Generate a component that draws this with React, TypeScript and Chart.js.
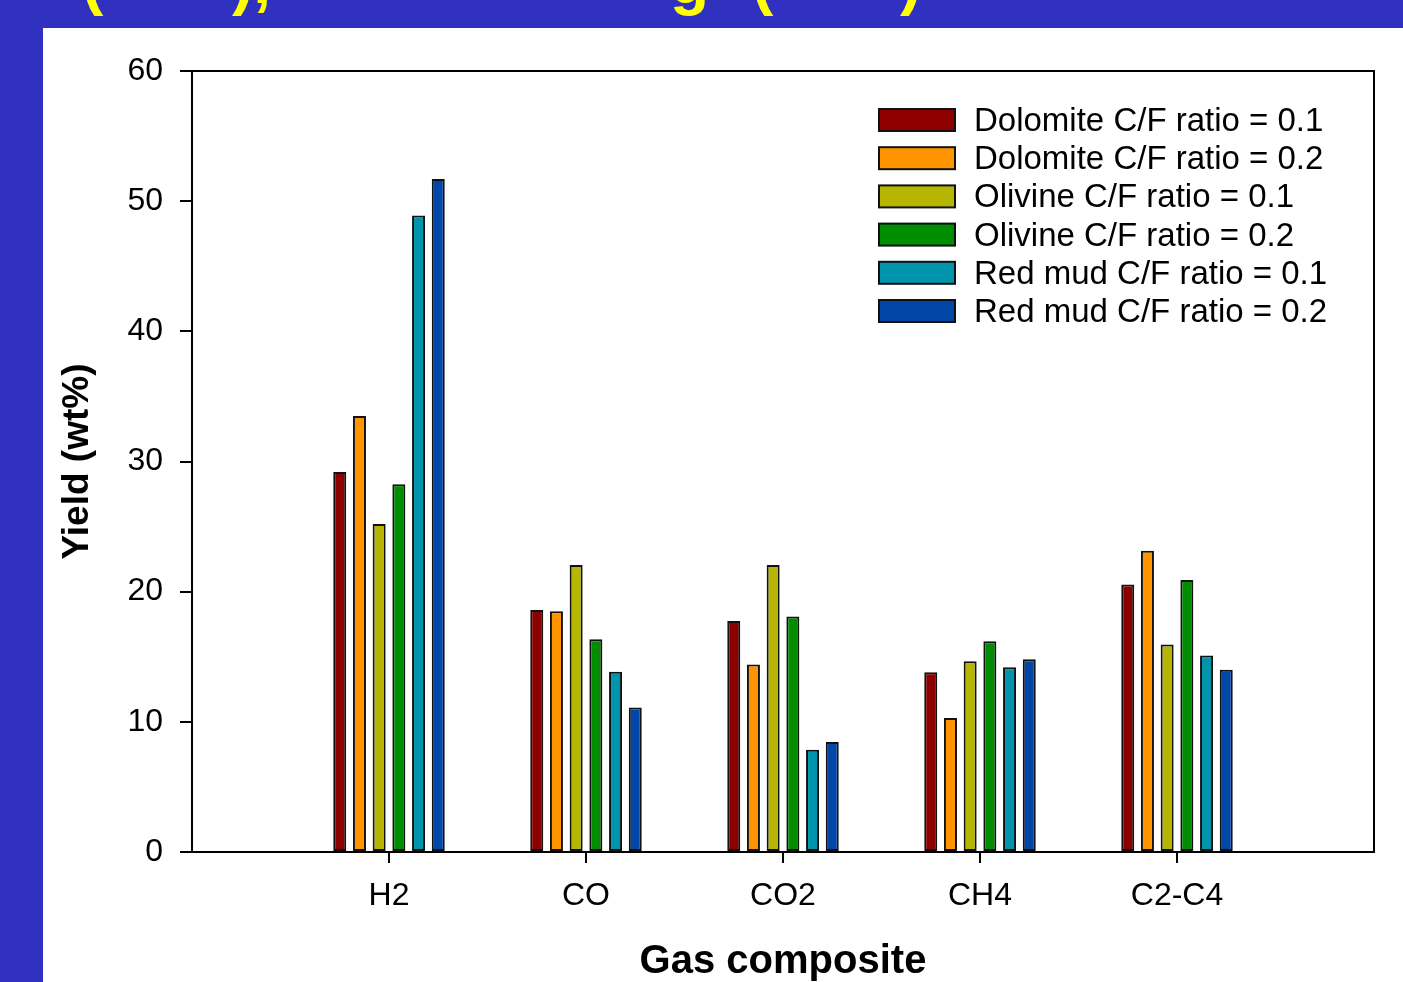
import React, { useEffect, useRef } from "react";
import { Chart, registerables } from "chart.js";

Chart.register(...registerables);

const categories = ["H2", "CO", "CO2", "CH4", "C2-C4"];
const seriesLabels = [
  "Dolomite C/F ratio = 0.1",
  "Dolomite C/F ratio = 0.2",
  "Olivine C/F ratio = 0.1",
  "Olivine C/F ratio = 0.2",
  "Red mud C/F ratio = 0.1",
  "Red mud C/F ratio = 0.2",
];
const dolomite01 = [29.2, 18.6, 17.75, 13.8, 20.55];
const dolomite02 = [33.5, 18.5, 14.4, 10.3, 23.15];
const olivine01 = [25.2, 22.05, 22.05, 14.65, 15.95];
const olivine02 = [28.25, 16.35, 18.1, 16.2, 20.9];
const redmud01 = [48.9, 13.85, 7.85, 14.2, 15.1];
const redmud02 = [51.7, 11.1, 8.45, 14.8, 14.0];
const yTicks = [0, 10, 20, 30, 40, 50, 60];
const seriesColors = ["#8e0000", "#ff9300", "#b6b600", "#008e00", "#0094ad", "#0047a8"];

const FONT = '"Liberation Sans", Arial, Helvetica, sans-serif';

const framePlugin = {
  id: "frame",
  afterDraw(chart: any) {
    const { ctx, chartArea } = chart;
    ctx.save();
    ctx.strokeStyle = "#000";
    ctx.lineWidth = 2;
    ctx.beginPath();
    ctx.moveTo(chartArea.left, chartArea.top);
    ctx.lineTo(chartArea.right, chartArea.top);
    ctx.lineTo(chartArea.right, chartArea.bottom);
    ctx.stroke();
    ctx.restore();
  },
};

const legendPlugin = {
  id: "innerLegend",
  afterDatasetsDraw(chart: any) {
    const { ctx, chartArea } = chart;
    const x0 = chartArea.right - 495;
    const y0 = chartArea.top + 49;
    ctx.save();
    chart.data.datasets.forEach((ds: any, i: number) => {
      const cy = y0 + i * 38.2;
      ctx.fillStyle = ds.backgroundColor;
      ctx.fillRect(x0, cy - 11, 76, 22);
      ctx.lineWidth = 2;
      ctx.strokeStyle = "#111";
      ctx.strokeRect(x0, cy - 11, 76, 22);
      ctx.fillStyle = "#000";
      ctx.font = `33px ${FONT}`;
      ctx.textBaseline = "middle";
      ctx.textAlign = "left";
      ctx.fillText(ds.label, x0 + 95, cy + 2);
    });
    ctx.restore();
  },
};

const fragStyle = (left: number): React.CSSProperties => ({
  position: "absolute",
  left,
  top: -51,
  fontFamily: FONT,
  fontWeight: "bold",
  fontSize: 64,
  lineHeight: "64px",
  color: "#ffff00",
  whiteSpace: "pre",
});

export default function App() {
  const ref = useRef<HTMLCanvasElement>(null);

  useEffect(() => {
    if (!ref.current) return;
    const labels = ["", ...categories, ""];
    const pad = (arr: number[]) => [null, ...arr, null];
    const series = [dolomite01, dolomite02, olivine01, olivine02, redmud01, redmud02];
    const chart = new Chart(ref.current, {
      type: "bar",
      data: {
        labels,
        datasets: series.map((d, i) => ({
          label: seriesLabels[i],
          data: pad(d),
          backgroundColor: seriesColors[i],
          borderColor: "#111",
          borderWidth: 2,
          borderSkipped: false,
          categoryPercentage: 0.6,
          barPercentage: 0.66,
        })),
      },
      options: {
        responsive: false,
        animation: false,
        devicePixelRatio: 1,
        layout: { padding: { left: 0, top: 71, right: 29, bottom: 0 } },
        plugins: { legend: { display: false }, tooltip: { enabled: false } },
        scales: {
          x: {
            type: "category",
            offset: false,
            grid: {
              offset: false,
              drawOnChartArea: false,
              tickLength: 11,
              lineWidth: 2,
              tickColor: (c: any) =>
                c.index === 0 || c.index === labels.length - 1 ? "rgba(0,0,0,0)" : "#000",
            },
            border: { display: true, color: "#000", width: 2 },
            ticks: {
              autoSkip: false,
              maxRotation: 0,
              color: "#000",
              font: { family: FONT, size: 32 },
              padding: 14,
            },
            title: {
              display: true,
              text: "Gas composite",
              color: "#000",
              font: { family: FONT, size: 40, weight: "bold", lineHeight: 1 },
              padding: { top: 0, bottom: 0 },
            },
            afterFit: (s: any) => {
              s.height = 130;
            },
          },
          y: {
            min: 0,
            max: 60,
            afterBuildTicks: (s: any) => {
              s.ticks = yTicks.map((v) => ({ value: v }));
            },
            grid: { drawOnChartArea: false, tickLength: 12, lineWidth: 2, color: "#000" },
            border: { display: true, color: "#000", width: 2 },
            ticks: { color: "#000", font: { family: FONT, size: 32 }, padding: 17 },
            title: {
              display: true,
              text: "Yield (wt%)",
              color: "#000",
              font: { family: FONT, size: 37, weight: "bold", lineHeight: 1 },
              padding: { top: 59, bottom: 0 },
            },
            afterFit: (s: any) => {
              s.width = 192;
            },
          },
        },
      },
      plugins: [framePlugin, legendPlugin],
    } as any);
    return () => chart.destroy();
  }, []);

  return (
    <div
      style={{
        position: "fixed",
        left: 0,
        top: 0,
        width: 1403,
        height: 982,
        background: "#3131c0",
        overflow: "hidden",
      }}
    >
      <div style={{ position: "absolute", left: 0, top: 0, width: 1403, height: 28, overflow: "hidden" }}>
        <span style={fragStyle(82)}>(</span>
        <span style={fragStyle(232)}>),</span>
        <span style={fragStyle(670)}>g</span>
        <span style={fragStyle(752)}>(</span>
        <span style={fragStyle(900)}>)</span>
      </div>
      <div style={{ position: "absolute", left: 43, top: 28, width: 1360, height: 954, background: "#fff" }} />
      <canvas
        ref={ref}
        width={1403}
        height={982}
        style={{ position: "absolute", left: 0, top: 0, width: 1403, height: 982 }}
      />
    </div>
  );
}
